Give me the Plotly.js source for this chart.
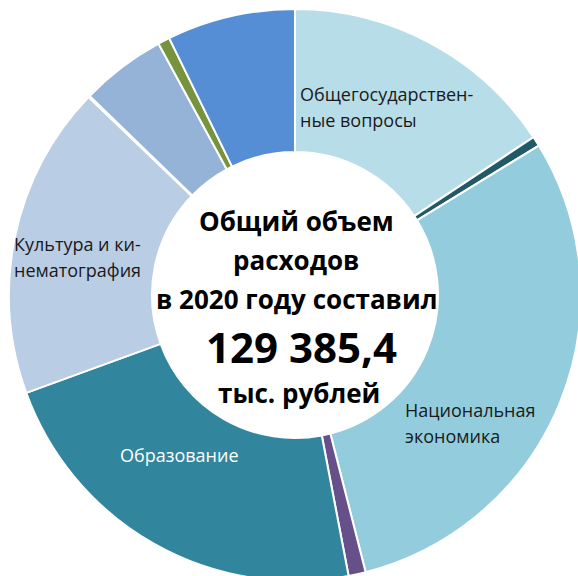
<!DOCTYPE html>
<html>
<head>
<meta charset="utf-8">
<script src="https://cdn.plot.ly/plotly-3.0.1.min.js"></script>
<style>html,body{margin:0;padding:0;overflow:hidden;background:#fff;}</style>
</head>
<body>
<div id="chart"></div>
<script>
// Expenditure categories (thousand rubles), clockwise from 12 o'clock
const categories = [
  "Общегосударственные вопросы",
  "Национальная безопасность и правоохранительная деятельность",
  "Национальная экономика",
  "Жилищно-коммунальное хозяйство",
  "Образование",
  "Культура и кинематография",
  "Здравоохранение",
  "Социальная политика",
  "Физическая культура и спорт",
  "Межбюджетные трансферты"
];
const values = [20306, 719, 38528, 1258, 29040, 22930, 108, 6254, 863, 9380];
const colors = ["#b7dde8", "#215967", "#93cddd", "#65508a", "#31859c",
                "#b9cde5", "#c0504d", "#95b3d7", "#77933c", "#558ed5"];
const centerLines = ["Общий объем", "расходов", "в 2020 году составил"];
const totalText = "129 385,4";
const unitText = "тыс. рублей";
const sliceLabels = [
  {lines: ["Общегосударствен-", "ные вопросы"], color: "#1a1a1a"},
  {lines: ["Национальная", "экономика"], color: "#1a1a1a"},
  {lines: ["Образование"], color: "#ffffff"},
  {lines: ["Культура и ки-", "нематография"], color: "#1a1a1a"}
];

const W = 590, H = 590, M = 9;
function px(x){ return (x - M) / (W - 2*M); }
function py(y){ return 1 - (y - M) / (H - 2*M); }

const labelPos = [
  {x: 298, y: 94},
  {x: 403, y: 410},
  {x: 118, y: 455},
  {x: 12, y: 244}
];
const lineStep = 26;

const annotations = [];
sliceLabels.forEach((s, i) => {
  s.lines.forEach((ln, j) => {
    annotations.push({
      text: ln,
      x: px(labelPos[i].x), y: py(labelPos[i].y + j * lineStep),
      xref: "paper", yref: "paper", xanchor: "left", yanchor: "middle",
      align: "left", showarrow: false,
      font: {family: "Open Sans, sans-serif", size: 18, color: s.color}
    });
  });
});
const cy = [221, 260, 298.5];
centerLines.forEach((t, i) => {
  annotations.push({
    text: "<b>" + t + "</b>", x: px(296), y: py(cy[i]),
    xref: "paper", yref: "paper", xanchor: "center", yanchor: "middle",
    showarrow: false,
    font: {family: "Open Sans, sans-serif", size: 26, color: "#000"}
  });
});
annotations.push({
  text: "<b>" + totalText + "</b>", x: px(301), y: py(346),
  xref: "paper", yref: "paper", xanchor: "center", yanchor: "middle",
  showarrow: false,
  font: {family: "Open Sans, sans-serif", size: 42, color: "#000"}
});
annotations.push({
  text: "<b>" + unitText + "</b>", x: px(299), y: py(393),
  xref: "paper", yref: "paper", xanchor: "center", yanchor: "middle",
  showarrow: false,
  font: {family: "Open Sans, sans-serif", size: 26, color: "#000"}
});

Plotly.newPlot("chart", [{
  type: "pie",
  labels: categories,
  values: values,
  sort: false,
  direction: "clockwise",
  rotation: 0,
  hole: 0.5,
  textinfo: "none",
  hoverinfo: "label+value+percent",
  marker: {colors: colors, line: {color: "#ffffff", width: 2}}
}], {
  width: W, height: H,
  margin: {l: M, r: M, t: M, b: M},
  showlegend: false,
  paper_bgcolor: "#ffffff",
  annotations: annotations
}, {displayModeBar: false, staticPlot: true});
</script>
</body>
</html>
